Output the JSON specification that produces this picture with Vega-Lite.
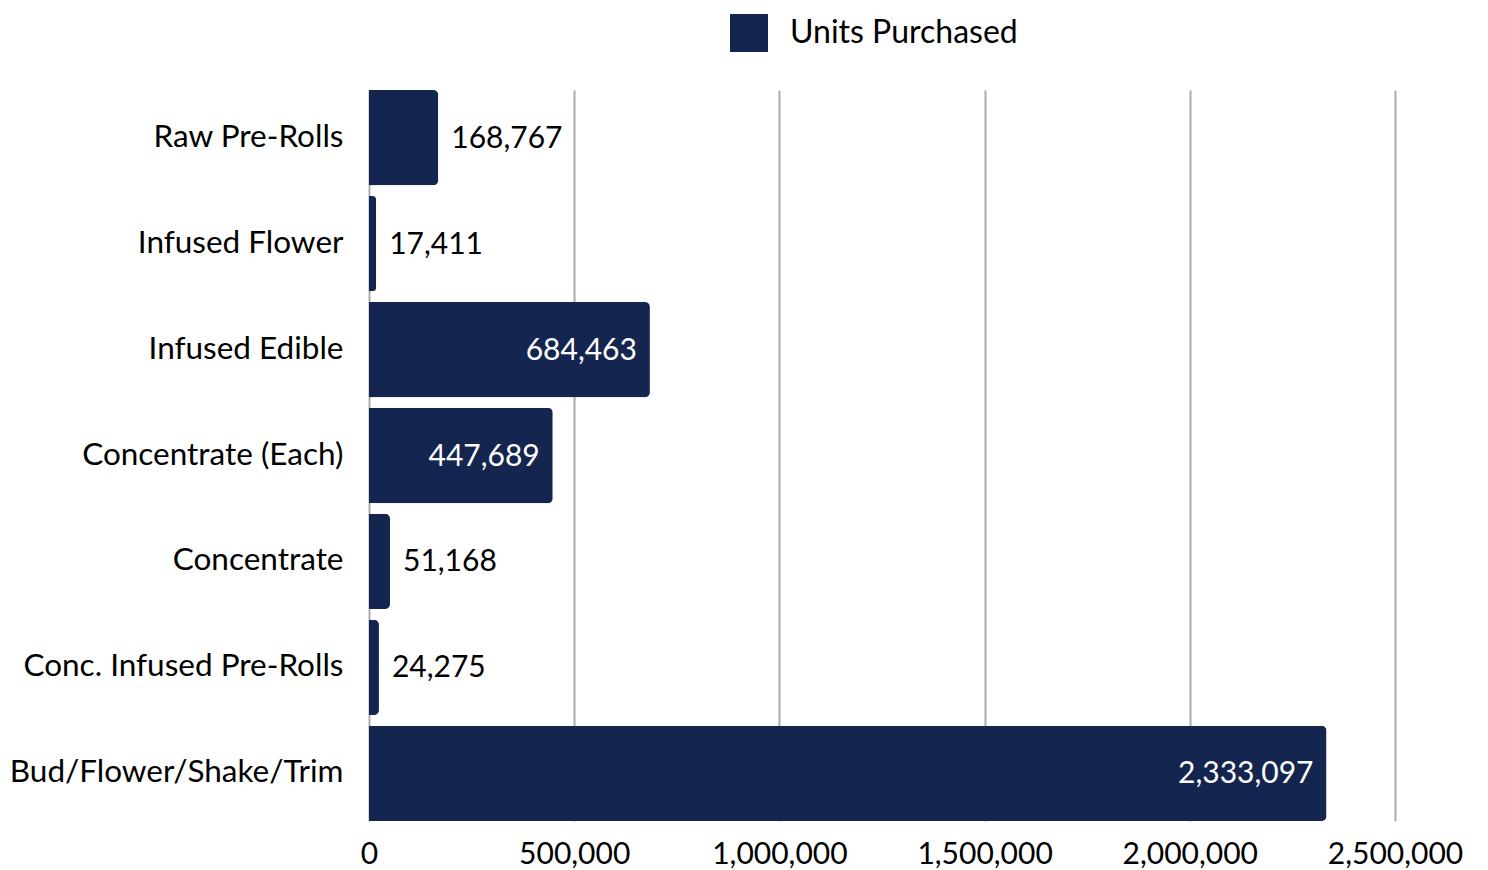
{
  "$schema": "https://vega.github.io/schema/vega-lite/v6.json",
  "width": 1026,
  "height": 731,
  "autosize": {"type": "none"},
  "padding": {"left": 369, "top": 90, "right": 93, "bottom": 49},
  "background": "white",
  "config": {
    "view": {"stroke": null},
    "font": "Lato",
    "text": {"font": "Lato"}
  },
  "data": {
    "values": [
      {"category": "Raw Pre-Rolls", "value": 168767},
      {"category": "Infused Flower", "value": 17411},
      {"category": "Infused Edible", "value": 684463},
      {"category": "Concentrate (Each)", "value": 447689},
      {"category": "Concentrate", "value": 51168},
      {"category": "Conc. Infused Pre-Rolls", "value": 24275},
      {"category": "Bud/Flower/Shake/Trim", "value": 2333097}
    ]
  },
  "encoding": {
    "y": {
      "field": "category",
      "type": "nominal",
      "sort": null,
      "scale": {"paddingInner": 0.1, "paddingOuter": 0},
      "axis": {
        "title": null,
        "domain": false,
        "ticks": false,
        "labelFont": "Lato",
        "labelFontSize": 31.5,
        "labelColor": "#000000",
        "labelPadding": 26,
        "labelLimit": 400
      }
    },
    "x": {
      "field": "value",
      "type": "quantitative",
      "scale": {"domain": [0, 2500000], "nice": false},
      "axis": {
        "title": null,
        "values": [0, 500000, 1000000, 1500000, 2000000, 2500000],
        "format": ",d",
        "domain": false,
        "ticks": false,
        "grid": true,
        "gridColor": "#ababab",
        "gridWidth": 2,
        "labelFont": "Lato",
        "labelFontSize": 30,
        "labelColor": "#000000",
        "labelPadding": 18,
        "labelFlush": false
      }
    }
  },
  "layer": [
    {
      "mark": {"type": "bar", "cornerRadiusEnd": 5},
      "encoding": {
        "color": {
          "datum": "Units Purchased",
          "type": "nominal",
          "scale": {"range": ["#14264f"]},
          "legend": {
            "title": null,
            "orient": "none",
            "legendX": 361,
            "legendY": -76,
            "symbolType": "square",
            "symbolSize": 1444,
            "symbolStrokeWidth": 0,
            "symbolOpacity": 1,
            "labelFont": "Lato",
            "labelFontSize": 32,
            "labelColor": "#000000",
            "labelOffset": 22,
            "labelLimit": 500
          }
        }
      }
    },
    {
      "transform": [{"filter": "datum.value > 300000"}],
      "mark": {"type": "text", "align": "right", "baseline": "middle", "dx": -13, "dy": 1, "fontSize": 30, "color": "#ffffff"},
      "encoding": {"text": {"field": "value", "type": "quantitative", "format": ","}}
    },
    {
      "transform": [{"filter": "datum.value <= 300000"}],
      "mark": {"type": "text", "align": "left", "baseline": "middle", "dx": 13, "dy": 1, "fontSize": 30, "color": "#000000"},
      "encoding": {"text": {"field": "value", "type": "quantitative", "format": ","}}
    }
  ]
}
